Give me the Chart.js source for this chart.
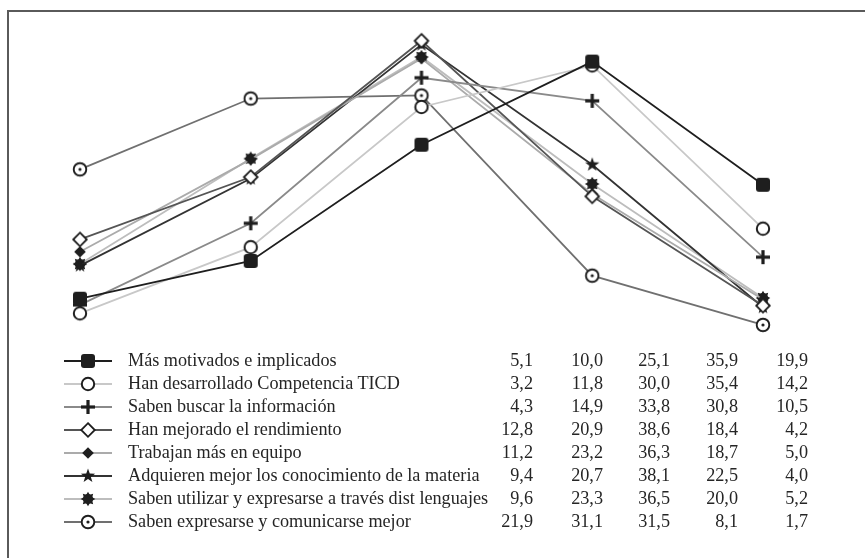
<!DOCTYPE html>
<html lang="es">
<head>
<meta charset="utf-8">
<title>Valoración de competencias</title>
<script src="https://cdn.jsdelivr.net/npm/chart.js@4.4.1/dist/chart.umd.min.js"></script>
<style>
    html, body { margin: 0; padding: 0; background: #fff; }
    #wrap { position: relative; width: 865px; height: 558px; overflow: hidden; font-family: "Liberation Serif", "DejaVu Serif", serif; color: #252525; }
    #marco { position: absolute; left: 7px; top: 10px; right: -10px; bottom: -10px; border-top: 2px solid #5a5a5a; border-left: 2px solid #5a5a5a; }
    #grafico { position: absolute; left: 0; top: 0; }
    .fila { position: absolute; left: 0; height: 23px; line-height: 23px; font-size: 18.2px; white-space: nowrap; }
    .fila .nombre { position: absolute; left: 128px; }
    .fila .num { position: absolute; text-align: right; width: 60px; }
</style>
</head>
<body>
<div id="wrap">
    <div id="marco"></div>
    <canvas id="grafico" width="865" height="558"></canvas>
    <div id="tabla"></div>
</div>
<script>
const categorias = ['1', '2', '3', '4', '5'];
const nombresSeries = [
    'Más motivados e implicados',
    'Han desarrollado Competencia TICD',
    'Saben buscar la información',
    'Han mejorado el rendimiento',
    'Trabajan más en equipo',
    'Adquieren mejor los conocimiento de la materia',
    'Saben utilizar y expresarse a través dist lenguajes',
    'Saben expresarse y comunicarse mejor'
];
const motivados     = [5.1, 10.0, 25.1, 35.9, 19.9];
const competencia   = [3.2, 11.8, 30.0, 35.4, 14.2];
const buscar        = [4.3, 14.9, 33.8, 30.8, 10.5];
const rendimiento   = [12.8, 20.9, 38.6, 18.4, 4.2];
const equipo        = [11.2, 23.2, 36.3, 18.7, 5.0];
const conocimiento  = [9.4, 20.7, 38.1, 22.5, 4.0];
const lenguajes     = [9.6, 23.3, 36.5, 20.0, 5.2];
const comunicarse   = [21.9, 31.1, 31.5, 8.1, 1.7];
const valoresSeries = [motivados, competencia, buscar, rendimiento, equipo, conocimiento, lenguajes, comunicarse];

// estilos de línea
const coloresLinea = ['#1e1e1e', '#c8c8c8', '#8a8a8a', '#555555', '#ababab', '#333333', '#bdbdbd', '#707070'];

document.addEventListener('DOMContentLoaded', () => {
    const TINTA = '#1e1e1e';

    // Crea un marcador como imagen (canvas) para usarlo como pointStyle
    const marcador = (tam, dibujar) => {
        const c = document.createElement('canvas');
        c.width = tam; c.height = tam;
        const ctx = c.getContext('2d');
        ctx.translate(tam / 2, tam / 2);
        dibujar(ctx);
        return c;
    };

    const poligono = (ctx, puntas, rExt, rInt, giro) => {
        ctx.beginPath();
        for (let i = 0; i < puntas * 2; i++) {
            const r = i % 2 === 0 ? rExt : rInt;
            const a = giro + i * Math.PI / puntas;
            const px = r * Math.cos(a), py = r * Math.sin(a);
            i === 0 ? ctx.moveTo(px, py) : ctx.lineTo(px, py);
        }
        ctx.closePath();
    };

    const marcadores = [
        // cuadrado relleno redondeado
        marcador(16, (ctx) => {
            ctx.fillStyle = TINTA;
            ctx.beginPath(); ctx.roundRect(-7, -7, 14, 14, 3); ctx.fill();
        }),
        // círculo abierto
        marcador(18, (ctx) => {
            ctx.fillStyle = '#fff'; ctx.strokeStyle = TINTA; ctx.lineWidth = 2;
            ctx.beginPath(); ctx.arc(0, 0, 6.2, 0, Math.PI * 2); ctx.fill(); ctx.stroke();
        }),
        // cruz
        marcador(18, (ctx) => {
            ctx.fillStyle = TINTA;
            ctx.fillRect(-7, -1.6, 14, 3.2);
            ctx.fillRect(-1.6, -7, 3.2, 14);
        }),
        // rombo abierto
        marcador(18, (ctx) => {
            ctx.fillStyle = '#fff'; ctx.strokeStyle = TINTA; ctx.lineWidth = 1.8;
            ctx.beginPath(); ctx.moveTo(0, -6.8); ctx.lineTo(6.8, 0); ctx.lineTo(0, 6.8); ctx.lineTo(-6.8, 0); ctx.closePath();
            ctx.fill(); ctx.stroke();
        }),
        // rombo relleno
        marcador(14, (ctx) => {
            ctx.fillStyle = TINTA;
            ctx.beginPath(); ctx.moveTo(0, -5.8); ctx.lineTo(5.8, 0); ctx.lineTo(0, 5.8); ctx.lineTo(-5.8, 0); ctx.closePath();
            ctx.fill();
        }),
        // estrella
        marcador(18, (ctx) => {
            ctx.fillStyle = TINTA;
            poligono(ctx, 5, 7.5, 3, -Math.PI / 2); ctx.fill();
        }),
        // asterisco / engranaje
        marcador(18, (ctx) => {
            ctx.fillStyle = TINTA;
            poligono(ctx, 8, 7.3, 4.6, -Math.PI / 2); ctx.fill();
            ctx.beginPath(); ctx.arc(0, 0, 5, 0, Math.PI * 2); ctx.fill();
        }),
        // círculo con punto
        marcador(18, (ctx) => {
            ctx.fillStyle = '#fff'; ctx.strokeStyle = TINTA; ctx.lineWidth = 1.9;
            ctx.beginPath(); ctx.arc(0, 0, 6.3, 0, Math.PI * 2); ctx.fill(); ctx.stroke();
            ctx.fillStyle = TINTA;
            ctx.beginPath(); ctx.arc(0, 0, 1.6, 0, Math.PI * 2); ctx.fill();
        })
    ];

    // Leyenda: línea + marcador dibujados en el canvas
    const FILA_Y0 = 361, FILA_DY = 23;
    const leyendaPlugin = {
        id: 'leyendaTabla',
        afterDraw(chart) {
            const ctx = chart.ctx;
            ctx.save();
            nombresSeries.forEach((_, i) => {
                const y = FILA_Y0 + i * FILA_DY;
                ctx.strokeStyle = coloresLinea[i];
                ctx.lineWidth = 1.8;
                ctx.beginPath(); ctx.moveTo(64, y); ctx.lineTo(112, y); ctx.stroke();
                const m = marcadores[i];
                ctx.drawImage(m, 88 - m.width / 2, y - m.height / 2);
            });
            ctx.restore();
        }
    };

    const ctx = document.getElementById('grafico').getContext('2d');
    new Chart(ctx, {
        type: 'line',
        data: {
            labels: categorias,
            datasets: valoresSeries.map((vals, i) => ({
                label: nombresSeries[i],
                data: vals,
                borderColor: coloresLinea[i],
                borderWidth: 1.8,
                pointStyle: marcadores[i],
                pointRadius: 7,
                tension: 0,
                fill: false,
                clip: false
            }))
        },
        options: {
            responsive: false,
            animation: false,
            layout: { padding: { left: 80, right: 102, top: 30, bottom: 220 } },
            scales: {
                x: { type: 'category', offset: false, display: false },
                y: { min: 0, max: 40, display: false }
            },
            plugins: { legend: { display: false }, tooltip: { enabled: false } }
        },
        plugins: [leyendaPlugin]
    });

    // Tabla de leyenda con valores (texto HTML)
    const fmt = (v) => v.toFixed(1).replace('.', ',');
    const colDerecha = [533, 603, 670, 738, 808];
    document.getElementById('tabla').innerHTML = nombresSeries.map((nombre, i) => `
        <div class="fila" style="top:${FILA_Y0 + i * FILA_DY - 12}px">
            <span class="nombre">${nombre}</span>
            ${valoresSeries[i].map((v, j) => `<span class="num" style="left:${colDerecha[j] - 60}px">${fmt(v)}</span>`).join('')}
        </div>
    `).join('');
});
</script>
</body>
</html>
